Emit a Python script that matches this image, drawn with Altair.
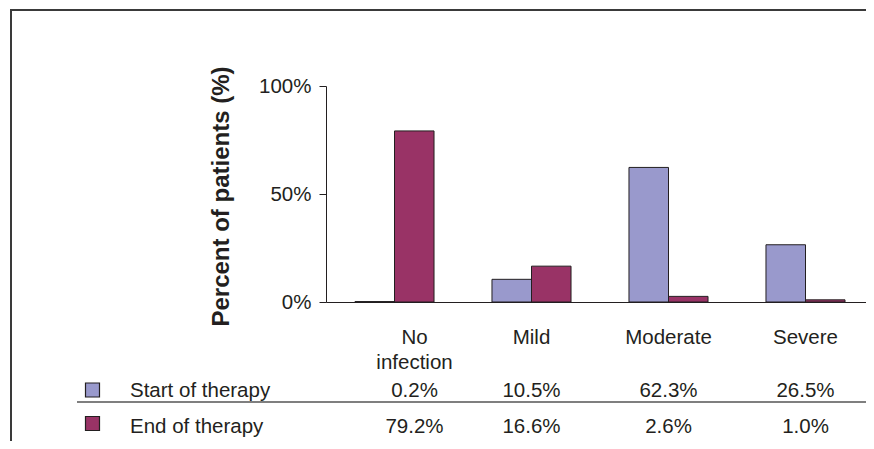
import altair as alt
import pandas as pd

categories = ["No infection", "Mild", "Moderate", "Severe"]
series = ["Start of therapy", "End of therapy"]
start_values = [0.2, 10.5, 62.3, 26.5]
end_values = [79.2, 16.6, 2.6, 1.0]
colors = ["#9999CC", "#993366"]

rows = []
for s, vals in zip(series, [start_values, end_values]):
    for c, v in zip(categories, vals):
        rows.append({"category": c, "series": s, "value": v, "label": f"{v:.1f}%"})
df = pd.DataFrame(rows)

FONT = "Liberation Sans, Arial, Helvetica, sans-serif"
INK = "#231f20"
W, H = 540, 216

xscale = alt.Scale(domain=categories, range=[0, 548], paddingInner=0.423, paddingOuter=0.2115)

base = alt.Chart(df)

bars = base.mark_bar(stroke=INK, strokeWidth=1).encode(
    x=alt.X("category:N", sort=categories, scale=xscale,
            axis=alt.Axis(title=None, ticks=False, tickSize=0, labelPadding=35,
                          labelBaseline="middle", labelLineHeight=25, labelAngle=0,
                          labelFontSize=20.5, labelColor=INK, labelFont=FONT,
                          domainColor=INK, domainWidth=1,
                          labelOffset=alt.condition("datum.value == 'No infection'", alt.value(20), alt.value(0)),
                          labelExpr="datum.label == 'No infection' ? ['No', 'infection'] : datum.label")),
    xOffset=alt.XOffset("series:N", sort=series, scale=alt.Scale(paddingInner=0, paddingOuter=0)),
    y=alt.Y("value:Q", scale=alt.Scale(domain=[0, 100]),
            axis=alt.Axis(values=[0, 50, 100], labelExpr="datum.value + '%'", grid=False,
                          tickSize=7, tickColor=INK, labelPadding=8, labelFontSize=20.5,
                          labelColor=INK, labelFont=FONT, domainColor=INK,
                          title="Percent of patients (%)", titleFontSize=24,
                          titleFontWeight="bold", titleFont=FONT, titleColor=INK,
                          titleAngle=270, titleX=-105, titleY=110, titleAlign="center",
                          titleBaseline="middle")),
    color=alt.Color("series:N", sort=series, scale=alt.Scale(domain=series, range=colors), legend=None),
)

layers = [bars]
row_y = {"Start of therapy": 311, "End of therapy": 347}
sq_y = {"Start of therapy": 304, "End of therapy": 337.5}
for s, col in zip(series, colors):
    sub = base.transform_filter(alt.datum.series == s)
    layers.append(sub.transform_filter(alt.datum.category == "No infection").mark_text(
        fontSize=20.5, font=FONT, color=INK, baseline="alphabetic", align="center", dx=20
    ).encode(x=alt.X("category:N", sort=categories, scale=xscale), text="label:N", y=alt.value(row_y[s])))
    layers.append(sub.transform_filter(alt.datum.category != "No infection").mark_text(
        fontSize=20.5, font=FONT, color=INK, baseline="alphabetic", align="center"
    ).encode(x=alt.X("category:N", sort=categories, scale=xscale), text="label:N", y=alt.value(row_y[s])))
    leg = alt.Chart(pd.DataFrame({"series": [s]}))
    layers.append(leg.mark_square(size=196, stroke=INK, strokeWidth=1.2, opacity=1, fill=col).encode(
        x=alt.value(-233.5), y=alt.value(sq_y[s])))
    layers.append(leg.mark_text(fontSize=20.5, font=FONT, color=INK, align="left", baseline="alphabetic").encode(
        x=alt.value(-196), y=alt.value(row_y[s]), text="series:N"))

deco = alt.Chart(pd.DataFrame({"a": [0]}))
layers.append(deco.mark_rule(color="#555555", strokeWidth=1.3).encode(
    x=alt.value(-249), x2=alt.value(548), y=alt.value(316)))
layers.append(deco.mark_rule(color="#3a3a3a", strokeWidth=2).encode(
    x=alt.value(-316), x2=alt.value(548), y=alt.value(-76)))
layers.append(deco.mark_rule(color="#3a3a3a", strokeWidth=2).encode(
    x=alt.value(-315), y=alt.value(-77), y2=alt.value(370)))

chart = alt.layer(*layers).properties(
    width=W, height=H,
    autosize=alt.AutoSizeParams(type="none"),
    padding={"left": 318, "top": 78, "right": 0, "bottom": 139},
    background="white",
).configure_view(stroke=None)

chart.save("out.html", embed_options={"renderer": "svg", "actions": False})
